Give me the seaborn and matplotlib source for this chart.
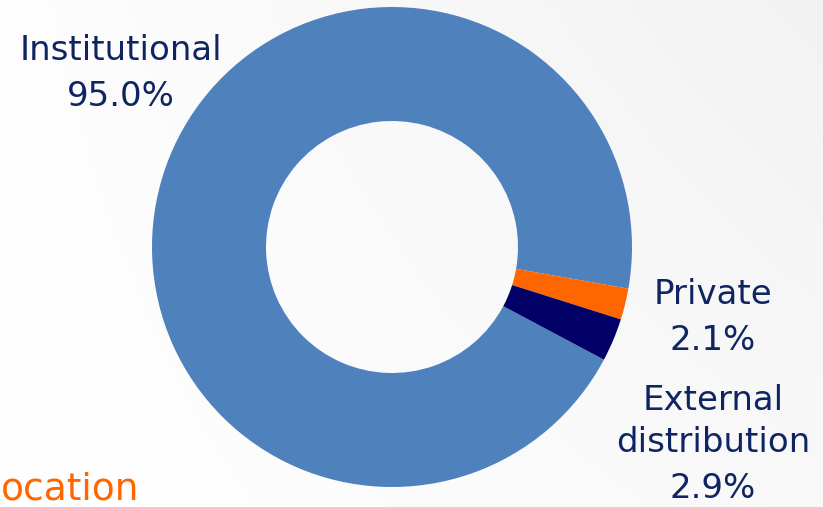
import numpy as np
import matplotlib
matplotlib.use("Agg")
import matplotlib.pyplot as plt
import seaborn as sns

categories = ["Institutional", "Private", "External\ndistribution"]
values = [95.0, 2.1, 2.9]
colors = ["#4f81bd", "#ff6600", "#000066"]
label_color = "#0f2463"

sns.set_theme(style="white")
plt.rcParams['font.family'] = ['DejaVu Sans']

W, H = 823, 507
fig = plt.figure(figsize=(W / 100, H / 100), dpi=100)

# background gradient
bg = fig.add_axes([0, 0, 1, 1])
bg.set_axis_off()
xx, yy = np.meshgrid(np.linspace(0, 1, 200), np.linspace(0, 1, 120))
g = np.clip(0.5 * xx + 0.4 * (1 - yy) * xx + 0.1 * (1 - yy), 0, 1)
rgb = 1.0 - 0.05 * g
bg.imshow(np.dstack([rgb, rgb, rgb]), extent=[0, 1, 0, 1], aspect="auto",
          origin="upper", zorder=0)
bg.set_xlim(0, 1)
bg.set_ylim(0, 1)

ax = fig.add_axes([0, 0, 1, 1])
ax.set_axis_off()
ax.patch.set_alpha(0)
cx, cy, R = 392, 247, 240
ax.pie(values, colors=colors, startangle=-28, counterclock=False,
       radius=1.0, wedgeprops=dict(width=0.475, edgecolor="none"))
ax.set_aspect("auto")
ax.set_xlim(-cx / R, (W - cx) / R)
ax.set_ylim(-(H - cy) / R, cy / R)

def px(x, y):
    return x / W, 1 - y / H

fs = 24.5
def lab(x, y, s, color=label_color, ha="center", size=fs):
    fig.text(*px(x, y), s, ha=ha, va="center", fontsize=size, color=color)

lab(121, 50, "Institutional")
lab(121, 97, f"{values[0]:.1f}%")
lab(713, 295, "Private")
lab(713, 340, f"{values[1]:.1f}%")
lab(713, 400, "External")
lab(713, 443, "distribution")
lab(713, 488, f"{values[2]:.1f}%")

fig.text(*px(1, 490), "ocation", ha="left", va="center",
         fontsize=27, color="#ff6600")

fig.savefig("out.png", dpi=100)
